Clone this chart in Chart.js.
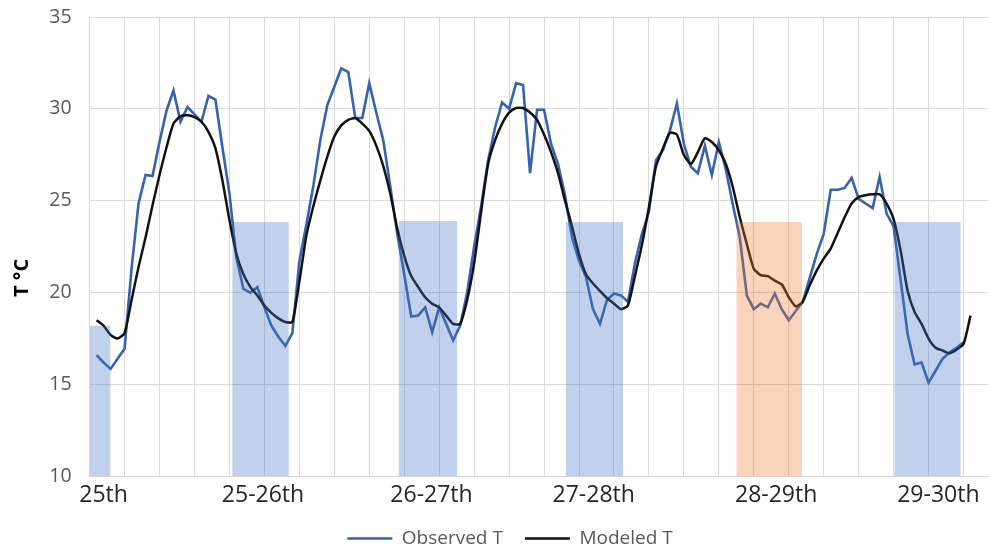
<!DOCTYPE html>
<html>
<head>
<meta charset="utf-8">
<script src="https://cdn.jsdelivr.net/npm/chart.js@4/dist/chart.umd.min.js"></script>
<style>
  html, body { margin: 0; padding: 0; background: #ffffff; }
</style>
</head>
<body>
<canvas id="chart" width="990" height="548"></canvas>
<script>
// Hourly air temperature, hour 1 onwards (°C)
const observedT = [
  16.6, 16.2, 15.85, 16.4, 16.95, 21.3, 24.85, 26.4, 26.35, 28.2,
  29.9, 31.0, 29.3, 30.1, 29.7, 29.3, 30.7, 30.5, 27.9, 25.4,
  21.9, 20.2, 20.0, 20.3, 19.2, 18.2, 17.6, 17.1, 17.8, 21.7,
  23.7, 25.8, 28.3, 30.2, 31.2, 32.2, 32.0, 29.5, 29.5, 31.4,
  29.8, 28.3, 25.8, 23.2, 21.0, 18.7, 18.75, 19.2, 17.85, 19.2,
  18.3, 17.4, 18.2, 20.0, 22.5, 24.7, 27.2, 29.0, 30.35, 30.0,
  31.4, 31.3, 26.5, 29.95, 29.95, 28.1, 27.0, 25.3, 23.0, 21.75,
  20.85, 19.1, 18.3, 19.6, 19.95, 19.85, 19.5, 21.6, 23.2, 24.4,
  27.2, 27.75, 28.8, 30.3, 28.1, 26.85, 26.5, 28.0, 26.4, 28.2,
  26.7, 24.8, 23.0, 19.85, 19.1, 19.4, 19.2, 19.95, 19.1, 18.5,
  19.0, 19.5, 20.8, 22.1, 23.2, 25.6, 25.6, 25.7, 26.25, 25.1,
  24.85, 24.6, 26.3, 24.3, 23.6, 20.7, 17.75, 16.1, 16.2, 15.1,
  15.75, 16.4, 16.75, 17.0, 17.3
];

const modeledT = [
  18.5, 18.2, 17.7, 17.5, 17.8, 19.6, 21.4, 23.0, 24.75, 26.4,
  27.9, 29.2, 29.6, 29.65, 29.55, 29.3, 28.75, 27.85, 26.1, 23.95,
  22.1, 21.0, 20.3, 19.85, 19.3, 18.9, 18.6, 18.4, 18.4, 20.6,
  23.1, 24.7, 26.1, 27.4, 28.5, 29.1, 29.4, 29.5, 29.2, 28.8,
  28.0, 26.9, 25.4, 23.5, 22.0, 20.9, 20.3, 19.75, 19.4, 19.2,
  18.75, 18.3, 18.3, 19.6, 21.6, 24.4, 27.0, 28.3, 29.2, 29.8,
  30.05, 30.05, 29.8, 29.4, 28.6, 27.65, 26.5, 25.0, 23.6, 22.1,
  21.0, 20.5, 20.1, 19.7, 19.4, 19.1, 19.3, 20.9, 22.6, 24.65,
  26.85, 27.85, 28.7, 28.6, 27.5, 27.0, 27.65, 28.4, 28.2, 27.75,
  27.0, 25.75, 24.1, 22.65, 21.3, 20.95, 20.9, 20.65, 20.45, 19.75,
  19.25, 19.5, 20.4, 21.2, 21.85, 22.4, 23.25, 24.1, 24.85, 25.2,
  25.3, 25.35, 25.35, 24.85, 24.0, 22.3, 20.1, 18.95, 18.3, 17.5,
  17.0, 16.85, 16.7, 16.9, 17.2, 18.75
];

// Day / night-period labels along the time axis (hour positions)
const dayLabels = ['25th', '25-26th', '26-27th', '27-28th', '28-29th', '29-30th'];
const dayLabelHour = [2, 24.8, 48.9, 72.1, 98.2, 121.4];

// Night-time bands: start hour, end hour and band height (°C)
const nightStart = [0, 20.4, 44.2, 68.1, 92.5, 115.1];
const nightEnd = [3.0, 28.5, 52.6, 76.3, 101.9, 124.6];
const nightTop = [18.2, 23.85, 23.9, 23.85, 23.85, 23.85];
const nightKind = ['clear', 'clear', 'clear', 'clear', 'cloudy', 'clear'];

const HOUR_MAX = 128.5;
const shadeFill = { clear: 'rgba(68,114,196,0.33)', cloudy: 'rgba(237,125,49,0.33)' };
const FONT = '"Open Sans", "DejaVu Sans", sans-serif';

const toPoints = arr => arr.map((v, i) => ({ x: i + 1, y: v }));

const datasets = [
  {
    label: 'Observed T',
    data: toPoints(observedT),
    borderColor: '#3763AC',
    backgroundColor: '#3763AC',
    borderWidth: 2.6,
    pointRadius: 0,
    tension: 0,
    fill: false,
    order: 2
  },
  {
    label: 'Modeled T',
    data: toPoints(modeledT),
    borderColor: '#111111',
    backgroundColor: '#111111',
    borderWidth: 2.5,
    pointRadius: 0,
    tension: 0.2,
    fill: false,
    order: 1
  }
];

nightStart.forEach((s, i) => {
  datasets.push({
    label: 'night ' + (i + 1),
    data: [{ x: s, y: nightTop[i] }, { x: nightEnd[i], y: nightTop[i] }],
    borderWidth: 0,
    borderColor: 'rgba(0,0,0,0)',
    backgroundColor: shadeFill[nightKind[i]],
    pointRadius: 0,
    fill: 'start',
    order: 0
  });
});

// Slide the legend a little to the right of the canvas centre
const legendNudge = {
  id: 'legendNudge',
  afterLayout(chart) {
    if (chart.legend) {
      chart.legend.left += 16;
      chart.legend.right += 16;
    }
  }
};

new Chart(document.getElementById('chart'), {
  type: 'line',
  data: { datasets },
  plugins: [legendNudge],
  options: {
    responsive: false,
    devicePixelRatio: 1,
    animation: false,
    layout: { padding: { top: 17, right: 2, bottom: -10, left: 0 } },
    plugins: {
      tooltip: { enabled: false },
      legend: {
        position: 'bottom',
        labels: {
          usePointStyle: true,
          pointStyle: 'line',
          pointStyleWidth: 45,
          padding: 22,
          color: '#595959',
          font: { family: FONT, size: 19 },
          filter: item => item.datasetIndex < 2,
          sort: (a, b) => a.datasetIndex - b.datasetIndex
        }
      }
    },
    scales: {
      x: {
        type: 'linear',
        min: 0,
        max: HOUR_MAX,
        afterBuildTicks: scale => {
          const t = [];
          for (let v = 0; v <= 125; v += 5) t.push({ value: v });
          scale.ticks = t;
        },
        ticks: { display: false },
        grid: { color: '#D9D9D9', lineWidth: 1, drawTicks: false },
        border: { color: '#D9D9D9' }
      },
      xDay: {
        type: 'linear',
        position: 'bottom',
        min: 0,
        max: HOUR_MAX,
        afterBuildTicks: scale => {
          scale.ticks = dayLabelHour.map(v => ({ value: v }));
        },
        afterFit: scale => { scale.height = scale.height - 8; },
        ticks: {
          autoSkip: false,
          maxRotation: 0,
          padding: 5.5,
          color: '#262626',
          font: { family: FONT, size: 23 },
          callback: (value, index) => dayLabels[index]
        },
        grid: { display: false, drawTicks: false },
        border: { display: false }
      },
      y: {
        min: 10,
        max: 35,
        afterFit: scale => { scale.width = 89.6; },
        ticks: {
          stepSize: 5,
          padding: 0,
          color: '#595959',
          font: { family: FONT, size: 19.5 }
        },
        grid: {
          color: '#D9D9D9',
          lineWidth: 1,
          drawTicks: true,
          tickLength: 18,
          tickColor: 'rgba(0,0,0,0)'
        },
        border: { color: '#D9D9D9' },
        title: {
          display: true,
          text: 'T °C            ',
          color: '#000000',
          padding: { top: 10, bottom: 0 },
          font: { family: FONT, size: 20, weight: 'bold' }
        }
      }
    }
  }
});
</script>
</body>
</html>
